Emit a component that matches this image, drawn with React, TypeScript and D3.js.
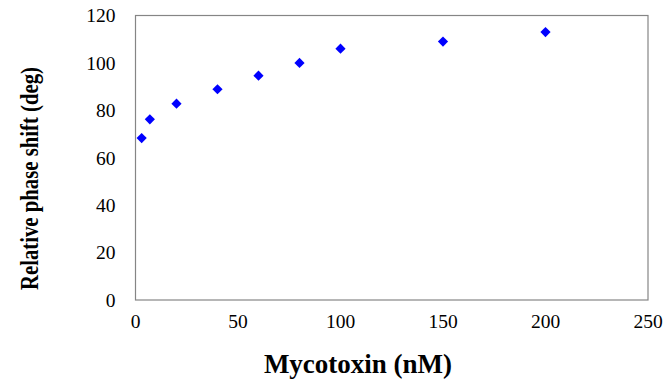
import React from "react";
import * as d3 from "d3";

// concentrations (nM) and measured phase shift (deg)
const concentrations = [3, 7, 20, 40, 60, 80, 100, 150, 200];
const phaseShifts = [68.3, 76.2, 82.8, 88.9, 94.6, 100, 106, 109, 113];
const xTicks = [0, 50, 100, 150, 200, 250];
const yTicks = [0, 20, 40, 60, 80, 100, 120];

const App = () => {
  const width = 665;
  const height = 383;
  const left = 135.5;
  const right = 648;
  const top = 15.5;
  const bottom = 300;

  const x = d3.scaleLinear().domain([0, 250]).range([left, right]);
  const y = d3.scaleLinear().domain([0, 120]).range([bottom, top]);

  // diamond marker: square turned 45 degrees
  const marker = d3.symbol().type(d3.symbolSquare).size(52)();

  const points = concentrations.map((c, i) => ({ c, v: phaseShifts[i] }));

  return (
    <svg
      width={width}
      height={height}
      style={{ position: "absolute", left: 0, top: 0, background: "#fff" }}
    >
      <rect
        x={x(0)}
        y={y(120)}
        width={x(250) - x(0)}
        height={y(0) - y(120)}
        fill="none"
        stroke="#858585"
        strokeWidth={1.2}
      />

      {yTicks.map((t) => (
        <text
          key={"y" + t}
          x={x(0) - 20}
          y={y(t)}
          dy="0.35em"
          textAnchor="end"
          fontFamily="'Liberation Serif', serif"
          fontSize={19.5}
          fill="#000"
        >
          {t}
        </text>
      ))}

      {xTicks.map((t) => (
        <text
          key={"x" + t}
          x={x(t)}
          y={328}
          textAnchor="middle"
          fontFamily="'Liberation Serif', serif"
          fontSize={19.5}
          fill="#000"
        >
          {t}
        </text>
      ))}

      {points.map((p, i) => (
        <path
          key={i}
          d={marker || ""}
          transform={`translate(${x(p.c)},${y(p.v)}) rotate(45)`}
          fill="#0000ff"
        />
      ))}

      <text
        x={358}
        y={373}
        textAnchor="middle"
        fontFamily="'Liberation Serif', serif"
        fontWeight="bold"
        fontSize={27}
        fill="#000"
      >
        Mycotoxin (nM)
      </text>

      <text
        transform="translate(38,178.5) rotate(-90)"
        textAnchor="middle"
        fontFamily="'Liberation Serif', serif"
        fontWeight="bold"
        fontSize={25}
        textLength={223}
        lengthAdjust="spacingAndGlyphs"
        fill="#000"
      >
        Relative phase shift (deg)
      </text>
    </svg>
  );
};

export default App;
